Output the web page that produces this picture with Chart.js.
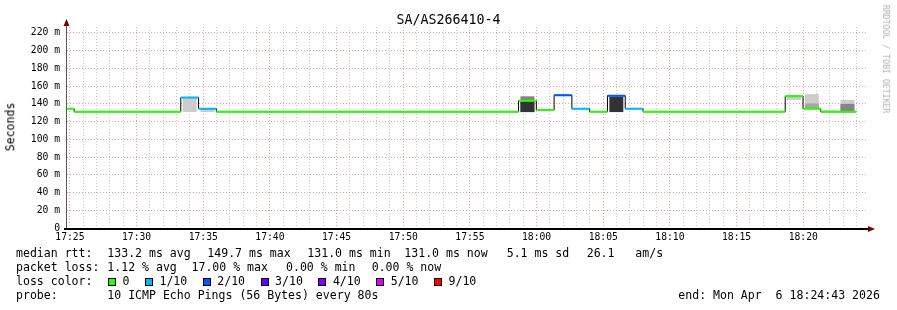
<!DOCTYPE html>
<html lang="en">
<head>
  <meta charset="UTF-8">
  <title>SA/AS266410-4</title>
  <script src="https://cdn.jsdelivr.net/npm/chart.js"></script>
  <style>
    body { margin: 0; background: #ffffff; }
    #graph { position: relative; width: 897px; height: 310px; font-family: "DejaVu Sans Mono", monospace; color: #000; }
    #graph canvas { position: absolute; left: 0; top: 0; }
    .txt { position: absolute; white-space: pre; font-size: 11.55px; line-height: 1; }
    #title { left: 0; width: 897px; text-align: center; top: 13px; font-size: 13.3px; }
    #ylabel { left: 11px; top: 127px; transform: translate(-50%, -50%) rotate(-90deg); }
    #credit { left: 886px; top: 59px; font-size: 8.2px; color: #b0b0b0; transform: translate(-50%, -50%) rotate(90deg); }
    #losskey { position: absolute; left: 108px; top: 276.2px; display: flex; align-items: center; font-size: 11.55px; line-height: 1; height: 12px; }
    #losskey .box { width: 6px; height: 6px; border: 1px solid #000; margin-right: 6.5px; }
    #losskey .lbl { margin-right: 15.5px; }
  </style>
</head>
<body>
<div id="graph">
  <canvas id="smoke" width="897" height="310"></canvas>
  <div class="txt" id="title">SA/AS266410-4</div>
  <div class="txt" id="ylabel">Seconds</div>
  <div class="txt" id="credit">RRDTOOL / TOBI OETIKER</div>

  <div class="txt" style="left:16px;top:247.5px">median rtt:</div>
  <div class="txt" style="left:107.3px;top:247.5px">133.2 ms avg</div>
  <div class="txt" style="left:207.3px;top:247.5px">149.7 ms max</div>
  <div class="txt" style="left:307.3px;top:247.5px">131.0 ms min</div>
  <div class="txt" style="left:404.3px;top:247.5px">131.0 ms now</div>
  <div class="txt" style="left:506.7px;top:247.5px">5.1 ms sd</div>
  <div class="txt" style="left:586.7px;top:247.5px">26.1   am/s</div>

  <div class="txt" style="left:16px;top:262.2px">packet loss:</div>
  <div class="txt" style="left:107.3px;top:262.2px">1.12 % avg</div>
  <div class="txt" style="left:191.5px;top:262.2px">17.00 % max</div>
  <div class="txt" style="left:286px;top:262.2px">0.00 % min</div>
  <div class="txt" style="left:371.7px;top:262.2px">0.00 % now</div>

  <div class="txt" style="left:16px;top:276.2px">loss color:</div>
  <div id="losskey"></div>

  <div class="txt" style="left:16px;top:290.2px">probe:</div>
  <div class="txt" style="left:107.3px;top:290.2px">10 ICMP Echo Pings (56 Bytes) every 80s</div>
  <div class="txt" style="left:678.3px;top:290.2px">end: Mon Apr  6 18:24:43 2026</div>
</div>

<script>
  // time window of the graph
  const windowStart = '17:24:47';
  const windowEnd = '18:24:47';
  const probeStep = 80; // seconds per probe round

  // start time of each probe round
  const probeStarts = [
    '17:23:59', '17:25:19', '17:26:39', '17:27:59', '17:29:19', '17:30:39', '17:31:59', '17:33:19', '17:34:39', '17:35:59',
    '17:37:19', '17:38:39', '17:39:59', '17:41:19', '17:42:39', '17:43:59', '17:45:19', '17:46:39', '17:47:59', '17:49:19',
    '17:50:39', '17:51:59', '17:53:19', '17:54:39', '17:55:59', '17:57:19', '17:58:39', '17:59:59', '18:01:19', '18:02:39',
    '18:03:59', '18:05:19', '18:06:39', '18:07:59', '18:09:19', '18:10:39', '18:11:59', '18:13:19', '18:14:39', '18:15:59',
    '18:17:19', '18:18:39', '18:19:59', '18:21:19', '18:22:39'
  ];

  // median rtt in ms
  const medianRtt = [
    134.5, 131.0, 131.0, 131.0, 131.0, 131.0, 131.0, 147.0, 134.5, 131.0,
    131.0, 131.0, 131.0, 131.0, 131.0, 131.0, 131.0, 131.0, 131.0, 131.0,
    131.0, 131.0, 131.0, 131.0, 131.0, 131.0, 143.5, 133.0, 149.7, 134.5,
    131.0, 149.0, 134.5, 131.0, 131.0, 131.0, 131.0, 131.0, 131.0, 131.0,
    131.0, 148.5, 134.5, 131.0, 131.0
  ];

  // lost pings out of 10
  const lossTenths = [
    0, 0, 0, 0, 0, 0, 0, 1, 1, 0,
    0, 0, 0, 0, 0, 0, 0, 0, 0, 0,
    0, 0, 0, 0, 0, 0, 0, 0, 2, 1,
    0, 2, 1, 0, 0, 0, 0, 0, 0, 0,
    0, 0, 0, 0, 0
  ];

  // smoke bands (ms ranges), outer to inner
  const smokeOuter = [
    null, null, null, null, null, null, null, [131, 147], [131, 134.5], null,
    null, null, null, null, null, null, null, null, null, null,
    null, null, null, null, null, null, null, null, null, null,
    null, null, null, null, null, null, null, null, null, null,
    null, [144.5, 148.5], [134.5, 150.5], [131, 132.5], [131, 144]
  ];
  const smokeMid = [
    null, null, null, null, null, null, null, null, null, null,
    null, null, null, null, null, null, null, null, null, null,
    null, null, null, null, null, null, null, null, null, null,
    null, null, null, null, null, null, null, null, null, null,
    null, null, [134.5, 140], null, null
  ];
  const smokeInner = [
    null, null, null, null, null, null, null, null, null, null,
    null, null, null, null, null, null, null, null, null, null,
    null, null, null, null, null, null, [131, 148], null, null, null,
    null, null, null, null, null, null, null, null, null, null,
    null, null, null, null, [131, 139.5]
  ];
  const smokeCore = [
    null, null, null, null, null, null, null, null, null, null,
    null, null, null, null, null, null, null, null, null, null,
    null, null, null, null, null, null, [131, 142], null, null, null,
    null, [131, 147.5], null, null, null, null, null, null, null, null,
    null, null, null, null, null
  ];

  const lossLevels = [0, 1, 2, 3, 4, 5, 9];
  const lossLabels = ['0', '1/10', '2/10', '3/10', '4/10', '5/10', '9/10'];
  const lossColors = ['#26ff00', '#00b8ff', '#0059ff', '#5e00ff', '#7e00ff', '#dd00ff', '#ff0000'];

  const xTickLabels = ['17:25', '17:30', '17:35', '17:40', '17:45', '17:50', '17:55', '18:00', '18:05', '18:10', '18:15', '18:20'];
  const yTickValues = [0, 20, 40, 60, 80, 100, 120, 140, 160, 180, 200, 220];
  const yTickLabels = ['0', '20 m', '40 m', '60 m', '80 m', '100 m', '120 m', '140 m', '160 m', '180 m', '200 m', '220 m'];
  const yMax = 226.5;

  function toSec(clock) {
    const p = clock.split(':').map(Number);
    return p[0] * 3600 + p[1] * 60 + (p[2] || 0);
  }
  const t0 = toSec(windowStart);
  const rel = c => toSec(c) - t0;

  // legend boxes
  const key = document.getElementById('losskey');
  lossLabels.forEach((l, i) => {
    const b = document.createElement('span');
    b.className = 'box';
    b.style.background = lossColors[i];
    const t = document.createElement('span');
    t.className = 'lbl';
    t.textContent = l;
    key.appendChild(b);
    key.appendChild(t);
  });

  const gridMinor = '#c8c8c8';
  const gridMajor = '#f0a0a0';

  const majorX = xTickLabels.map(l => rel(l + ':00'));
  const minuteTicks = [];
  for (let v = majorX[0]; v <= rel(windowEnd); v += 60) minuteTicks.push(v);
  const yGrid = [];
  for (let v = 0; v <= yTickValues[yTickValues.length - 1]; v += 10) yGrid.push(v);

  const smokeBands = [
    { data: smokeOuter, color: '#cccccc' },
    { data: smokeMid, color: '#a6a6a6' },
    { data: smokeInner, color: '#858585' },
    { data: smokeCore, color: '#333333' }
  ];
  const smokeSets = smokeBands.map((b, j) => ({
    type: 'bar',
    data: probeStarts.map((t, i) => ({ x: rel(t) + probeStep / 2, y: b.data[i] })),
    backgroundColor: b.color,
    borderWidth: 0,
    grouped: false,
    barPercentage: 1,
    categoryPercentage: 1,
    order: 10 - j
  }));

  const medianPts = probeStarts.map((t, i) => ({ x: rel(t), y: medianRtt[i] }));
  medianPts.push({ x: rel(probeStarts[probeStarts.length - 1]) + probeStep, y: medianRtt[medianRtt.length - 1] });
  const medianLine = {
    type: 'line',
    data: medianPts,
    stepped: 'before',
    borderColor: '#000000',
    borderWidth: 1,
    pointRadius: 0,
    order: 1
  };

  // median coloured by loss, one dataset per loss level
  const lossSets = lossLevels.map((lvl, j) => {
    const pts = [];
    probeStarts.forEach((t, i) => {
      if (lossTenths[i] !== lvl) return;
      const s = rel(t);
      pts.push({ x: s, y: medianRtt[i] }, { x: s + probeStep, y: medianRtt[i] }, { x: s + probeStep, y: null });
    });
    return { type: 'line', data: pts, borderColor: lossColors[j], borderWidth: 2, pointRadius: 0, spanGaps: false, order: 0 };
  });

  // axis lines with arrow heads
  const axisArrows = {
    id: 'axisArrows',
    afterDraw(chart) {
      const { ctx, chartArea: a } = chart;
      ctx.save();
      ctx.fillStyle = '#5a5a5a';
      ctx.fillRect(a.left - 1, a.top - 6, 1, a.bottom - a.top + 8);
      ctx.fillStyle = '#000000';
      ctx.fillRect(a.left - 3, a.bottom, a.right - a.left + 5, 2);
      ctx.fillStyle = '#7f0000';
      ctx.beginPath();
      ctx.moveTo(a.left - 3.5, a.top - 1);
      ctx.lineTo(a.left - 0.5, a.top - 8);
      ctx.lineTo(a.left + 2.5, a.top - 1);
      ctx.closePath();
      ctx.fill();
      ctx.beginPath();
      ctx.moveTo(a.right + 1, a.bottom - 2);
      ctx.lineTo(a.right + 8, a.bottom + 1);
      ctx.lineTo(a.right + 1, a.bottom + 4);
      ctx.closePath();
      ctx.fill();
      ctx.restore();
    }
  };

  const tickFont = { family: 'DejaVu Sans Mono', size: 9.7 };

  new Chart(document.getElementById('smoke').getContext('2d'), {
    type: 'bar',
    data: { datasets: [...lossSets, medianLine, ...smokeSets] },
    options: {
      responsive: false,
      animation: false,
      events: [],
      layout: { padding: { left: 0, right: 30, top: 27, bottom: 0 } },
      plugins: { legend: { display: false }, tooltip: { enabled: false }, title: { display: false } },
      scales: {
        x: {
          type: 'linear',
          min: 0,
          max: rel(windowEnd),
          offset: false,
          grid: { offset: false, drawTicks: false, lineWidth: 1, color: c => majorX.includes(c.tick.value) ? gridMajor : gridMinor },
          border: { display: false, dash: [1, 2] },
          afterBuildTicks: s => { s.ticks = minuteTicks.map(v => ({ value: v })); },
          afterFit: s => { s.height = 82; },
          ticks: {
            autoSkip: false, maxRotation: 0, minRotation: 0, padding: 4, color: '#000', font: tickFont,
            callback: v => { const i = majorX.indexOf(v); return i >= 0 ? xTickLabels[i] : ''; }
          }
        },
        y: {
          type: 'linear',
          min: 0,
          max: yMax,
          grid: { drawTicks: false, lineWidth: 1, color: c => c.tick.value % 20 === 0 ? gridMajor : gridMinor },
          border: { display: false, dash: [1, 2] },
          afterBuildTicks: s => { s.ticks = yGrid.map(v => ({ value: v })); },
          afterFit: s => { s.width = 67; },
          ticks: {
            padding: 7, color: '#000', font: tickFont,
            callback: v => { const i = yTickValues.indexOf(v); return i >= 0 ? yTickLabels[i] : ''; }
          }
        }
      }
    },
    plugins: [axisArrows]
  });
</script>
</body>
</html>
